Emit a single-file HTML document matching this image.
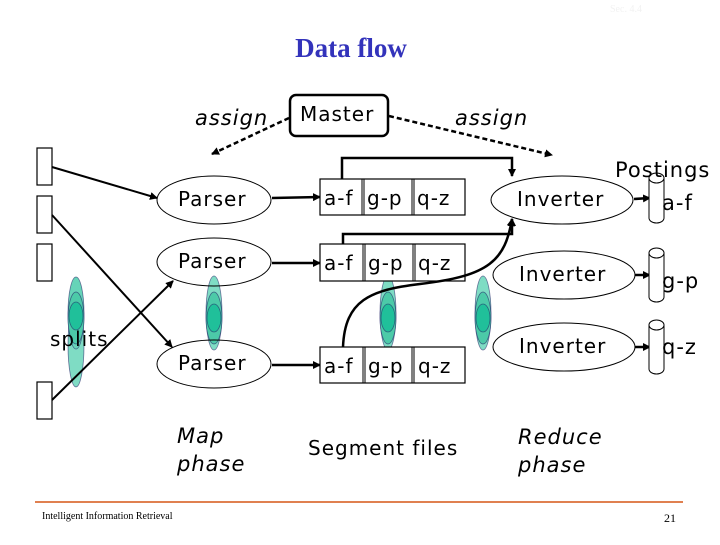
<!DOCTYPE html>
<html><head><style>
body{margin:0;background:#fff;width:720px;height:540px;overflow:hidden}
svg text{font-family:"DejaVu Sans","Liberation Sans",sans-serif}
.d{letter-spacing:1px}
</style></head><body>
<svg width="720" height="540" viewBox="0 0 720 540" xmlns="http://www.w3.org/2000/svg">
<defs>
<marker id="a" markerWidth="8" markerHeight="8" refX="7" refY="4" orient="auto" markerUnits="userSpaceOnUse"><path d="M0,0 L8,4 L0,8 z" fill="#000"/></marker>
</defs>
<text x="610" y="12" font-size="10" fill="#f2f2f2" style="font-family:'Liberation Serif',serif">Sec. 4.4</text>
<text x="351" y="57" text-anchor="middle" font-size="27" font-weight="bold" fill="#3333bb" style="font-family:'Liberation Serif',serif">Data flow</text>

<rect x="290" y="95" width="98" height="41" rx="6" fill="#fff" stroke="#000" stroke-width="2.5"/>
<text class="d" x="300" y="121" font-size="20">Master</text>
<text class="d" x="195" y="125" font-size="21" font-style="italic">assign</text>
<text class="d" x="455" y="125" font-size="21" font-style="italic">assign</text>
<g stroke="#000" stroke-width="2.5" stroke-dasharray="5,3" fill="none">
<line x1="289" y1="118" x2="212" y2="154" marker-end="url(#a)"/>
<line x1="389" y1="116" x2="552" y2="155" marker-end="url(#a)"/>
</g>

<g fill="#fff" stroke="#000" stroke-width="1.2">
<rect x="37" y="148" width="15" height="37"/>
<rect x="37" y="196" width="15" height="37"/>
<rect x="37" y="244" width="15" height="37"/>
<rect x="37" y="382" width="15" height="37"/>
</g>
<g stroke="#226" stroke-width="0.8" stroke-opacity="0.6">
<ellipse cx="76" cy="345" rx="8" ry="42" fill="#7fdcc4"/>
<ellipse cx="76" cy="313" rx="8" ry="36" fill="#66d4b8"/>
<ellipse cx="76" cy="318" rx="8" ry="26" fill="#4ccaa8"/>
<ellipse cx="76" cy="316" rx="7" ry="14" fill="#20c09a"/>
</g>
<g stroke="#226" stroke-width="0.8" stroke-opacity="0.6">
<ellipse cx="214" cy="313" rx="8" ry="37" fill="#7fdcc4"/>
<ellipse cx="214" cy="318" rx="8" ry="26" fill="#4ccaa8"/>
<ellipse cx="214" cy="318" rx="7" ry="14" fill="#20c09a"/>
<ellipse cx="388" cy="313" rx="8" ry="37" fill="#7fdcc4"/>
<ellipse cx="388" cy="318" rx="8" ry="26" fill="#4ccaa8"/>
<ellipse cx="388" cy="318" rx="7" ry="14" fill="#20c09a"/>
<ellipse cx="483" cy="313" rx="8" ry="37" fill="#7fdcc4"/>
<ellipse cx="483" cy="318" rx="8" ry="26" fill="#4ccaa8"/>
<ellipse cx="483" cy="318" rx="7" ry="14" fill="#20c09a"/>
</g>
<text class="d" x="50" y="346" font-size="20">splits</text>

<g stroke="#000" stroke-width="2" fill="none">
<line x1="52" y1="167" x2="157" y2="198" marker-end="url(#a)"/>
<line x1="52" y1="215" x2="172" y2="347" marker-end="url(#a)"/>
<line x1="52" y1="400" x2="173" y2="281" marker-end="url(#a)"/>
</g>

<g fill="none" stroke="#000" stroke-width="1">
<ellipse cx="214" cy="200" rx="57" ry="24"/>
<ellipse cx="214" cy="262" rx="57" ry="24"/>
<ellipse cx="214" cy="364" rx="57" ry="24"/>
</g>
<text class="d" x="178" y="206" font-size="20">Parser</text>
<text class="d" x="178" y="268" font-size="20">Parser</text>
<text class="d" x="178" y="370" font-size="20">Parser</text>
<g stroke="#000" stroke-width="2.5">
<line x1="272" y1="198" x2="320" y2="197" marker-end="url(#a)"/>
<line x1="272" y1="263" x2="320" y2="263" marker-end="url(#a)"/>
<line x1="272" y1="365" x2="320" y2="365" marker-end="url(#a)"/>
</g>

<g fill="#fff" stroke="#000" stroke-width="1.2">
<rect x="320" y="179" width="145" height="36"/>
<rect x="320" y="244" width="145" height="37"/>
<rect x="320" y="347" width="145" height="36"/>
</g>
<g stroke="#000" stroke-width="1">
<line x1="362" y1="179" x2="362" y2="215"/><line x1="364" y1="179" x2="364" y2="215"/>
<line x1="412" y1="179" x2="412" y2="215"/><line x1="414" y1="179" x2="414" y2="215"/>
<line x1="363" y1="244" x2="363" y2="281"/><line x1="365" y1="244" x2="365" y2="281"/>
<line x1="413" y1="244" x2="413" y2="281"/><line x1="415" y1="244" x2="415" y2="281"/>
<line x1="363" y1="347" x2="363" y2="383"/><line x1="365" y1="347" x2="365" y2="383"/>
<line x1="412" y1="347" x2="412" y2="383"/><line x1="414" y1="347" x2="414" y2="383"/>
</g>
<text class="d" x="324" y="205" font-size="20">a-f</text><text class="d" x="367" y="205" font-size="20">g-p</text><text class="d" x="417" y="205" font-size="20">q-z</text>
<text class="d" x="324" y="270" font-size="20">a-f</text><text class="d" x="368" y="270" font-size="20">g-p</text><text class="d" x="418" y="270" font-size="20">q-z</text>
<text class="d" x="324" y="373" font-size="20">a-f</text><text class="d" x="368" y="373" font-size="20">g-p</text><text class="d" x="418" y="373" font-size="20">q-z</text>

<g stroke="#000" stroke-width="2.5" fill="none">
<polyline points="342,179 342,158 512,158 512,176" marker-end="url(#a)"/>
<polyline points="343,244 343,234 512,234 512,219" marker-end="url(#a)"/>
<path d="M343,347 C345,300 370,290 420,284 C490,276 505,260 512,219" marker-end="url(#a)"/>
</g>

<g fill="none" stroke="#000" stroke-width="1">
<ellipse cx="562" cy="200" rx="71" ry="24"/>
<ellipse cx="564" cy="275" rx="71" ry="24"/>
<ellipse cx="564" cy="347" rx="71" ry="24"/>
</g>
<text class="d" x="517" y="206" font-size="20">Inverter</text>
<text class="d" x="519" y="281" font-size="20">Inverter</text>
<text class="d" x="519" y="353" font-size="20">Inverter</text>
<g stroke="#000" stroke-width="2.5">
<line x1="634" y1="199" x2="650" y2="198" marker-end="url(#a)"/>
<line x1="635" y1="275" x2="650" y2="275" marker-end="url(#a)"/>
<line x1="635" y1="347" x2="650" y2="347" marker-end="url(#a)"/>
</g>
<g fill="#fff" stroke="#000" stroke-width="1">
<path d="M649,178 L649,218 A7.5,5 0 0 0 664,218 L664,178"/><ellipse cx="656.5" cy="178" rx="7.5" ry="5"/>
<path d="M649,253 L649,297 A7.5,5 0 0 0 664,297 L664,253"/><ellipse cx="656.5" cy="253" rx="7.5" ry="5"/>
<path d="M649,325 L649,369 A7.5,5 0 0 0 664,369 L664,325"/><ellipse cx="656.5" cy="325" rx="7.5" ry="5"/>
</g>
<text class="d" x="615" y="177" font-size="21">Postings</text>
<text class="d" x="662" y="210" font-size="21">a-f</text>
<text class="d" x="662" y="288" font-size="21">g-p</text>
<text class="d" x="662" y="354" font-size="21">q-z</text>

<text class="d" x="177" y="443" font-size="21" font-style="italic">Map</text>
<text class="d" x="177" y="471" font-size="21" font-style="italic">phase</text>
<text class="d" x="308" y="455" font-size="20">Segment files</text>
<text class="d" x="518" y="444" font-size="21" font-style="italic">Reduce</text>
<text class="d" x="518" y="472" font-size="21" font-style="italic">phase</text>

<line x1="35" y1="502" x2="683" y2="502" stroke="#e08050" stroke-width="2"/>
<text x="42" y="519" font-size="10" style="font-family:'Liberation Serif',serif">Intelligent Information Retrieval</text>
<text x="664" y="522" font-size="12" style="font-family:'Liberation Serif',serif">21</text>
</svg>
</body></html>
